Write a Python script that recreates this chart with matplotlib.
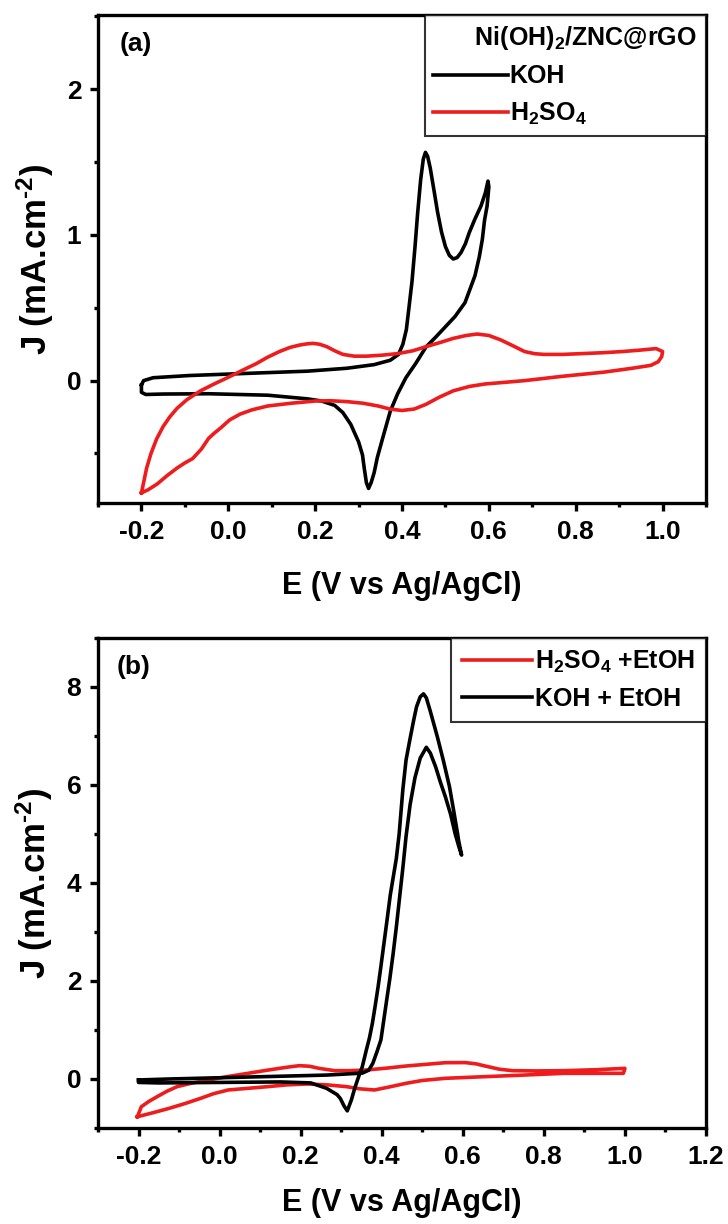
import matplotlib
matplotlib.use("Agg")
import matplotlib.pyplot as plt
from matplotlib.ticker import MultipleLocator, FormatStrFormatter

plt.rcParams['font.family'] = ['Liberation Sans', 'DejaVu Sans']
plt.rcParams['font.weight'] = 'bold'
plt.rcParams['axes.unicode_minus'] = False
plt.rcParams['mathtext.fontset'] = 'custom'
plt.rcParams['mathtext.rm'] = 'Liberation Sans:bold'
plt.rcParams['mathtext.bf'] = 'Liberation Sans:bold'
plt.rcParams['mathtext.it'] = 'Liberation Sans:bold'

# ---------------- data: panel (a) ----------------
koh_E = [-0.2, -0.195, -0.173, -0.09, 0.045, 0.182, 0.273, 0.336, 0.373, 0.392, 0.402, 0.41, 0.416,
         0.423, 0.43, 0.436, 0.443, 0.449, 0.454, 0.459, 0.465, 0.474, 0.482, 0.491, 0.5, 0.509,
         0.518, 0.527, 0.536, 0.546, 0.555, 0.568, 0.582, 0.592, 0.598,
         0.6, 0.596, 0.59, 0.585, 0.578, 0.568, 0.545, 0.522, 0.5, 0.478, 0.455, 0.432, 0.409,
         0.39, 0.373, 0.355, 0.343, 0.336, 0.329, 0.323, 0.318, 0.313, 0.309, 0.3, 0.282, 0.264,
         0.245, 0.215, 0.182, 0.091, -0.045, -0.15, -0.19, -0.2, -0.2]
koh_J = [-0.03, 0.0, 0.02, 0.035, 0.05, 0.065, 0.085, 0.11, 0.14, 0.18, 0.25, 0.35, 0.5,
         0.68, 0.92, 1.15, 1.38, 1.52, 1.567, 1.54, 1.46, 1.3, 1.155, 1.02, 0.92, 0.86,
         0.835, 0.845, 0.88, 0.94, 1.017, 1.11, 1.2, 1.29, 1.37,
         1.33, 1.2, 1.1, 0.97, 0.85, 0.72, 0.535, 0.44, 0.37, 0.3, 0.23, 0.12, 0.02,
         -0.09, -0.21, -0.4, -0.53, -0.63, -0.7, -0.74, -0.7, -0.6, -0.51, -0.42, -0.3, -0.22,
         -0.17, -0.14, -0.125, -0.1, -0.09, -0.092, -0.095, -0.08, -0.03]

h2so4_E = [-0.2, -0.195, -0.188, -0.178, -0.165, -0.15, -0.135, -0.118, -0.095, -0.064, -0.032,
           0.0, 0.032, 0.064, 0.09, 0.118, 0.142, 0.164, 0.18, 0.195, 0.21, 0.227, 0.245,
           0.264, 0.29, 0.318, 0.355, 0.391, 0.425, 0.455, 0.488, 0.518, 0.548, 0.573, 0.6,
           0.627, 0.655, 0.682, 0.705, 0.727, 0.77, 0.818, 0.865, 0.909, 0.95, 0.985,
           1.0, 0.998, 0.99, 0.973, 0.93, 0.864, 0.77, 0.682, 0.635, 0.591, 0.555, 0.518,
           0.485, 0.455, 0.428, 0.4, 0.372, 0.345, 0.31, 0.273, 0.235, 0.2, 0.145, 0.091,
           0.055, 0.027, 0.003, -0.018, -0.032, -0.045, -0.062, -0.082, -0.1, -0.118, -0.14,
           -0.164, -0.185, -0.2]
h2so4_J = [-0.77, -0.7, -0.6, -0.5, -0.4, -0.315, -0.25, -0.19, -0.13, -0.07, -0.022,
           0.023, 0.07, 0.116, 0.16, 0.2, 0.228, 0.244, 0.252, 0.256, 0.25, 0.233, 0.205,
           0.18, 0.168, 0.168, 0.175, 0.186, 0.205, 0.233, 0.262, 0.29, 0.31, 0.32, 0.31,
           0.28, 0.24, 0.2, 0.185, 0.18, 0.18, 0.186, 0.192, 0.2, 0.21, 0.22,
           0.2, 0.165, 0.13, 0.105, 0.085, 0.058, 0.03, 0.0, -0.012, -0.023, -0.04, -0.07,
           -0.115, -0.163, -0.195, -0.205, -0.195, -0.174, -0.155, -0.144, -0.138, -0.14, -0.155, -0.174,
           -0.2, -0.23, -0.27, -0.326, -0.36, -0.395, -0.47, -0.535, -0.565, -0.6, -0.65,
           -0.71, -0.75, -0.77]

# ---------------- data: panel (b) ----------------
koh_etoh_E = [-0.2, -0.125, 0.07, 0.264, 0.352, 0.368, 0.378, 0.388, 0.398, 0.405, 0.412, 0.42,
              0.428, 0.436, 0.444, 0.452, 0.46, 0.47, 0.482, 0.495, 0.51, 0.52, 0.533, 0.545,
              0.557, 0.57, 0.581, 0.59, 0.597,
              0.59, 0.587, 0.577, 0.567, 0.552, 0.537, 0.52, 0.51, 0.503, 0.495, 0.486, 0.479,
              0.47, 0.46, 0.452, 0.443, 0.436, 0.428, 0.421, 0.414, 0.406, 0.398, 0.391, 0.384,
              0.377, 0.37, 0.362, 0.352, 0.341, 0.333, 0.325, 0.315, 0.307, 0.298, 0.29, 0.264,
              0.225, 0.15, 0.0, -0.15, -0.2, -0.2]
koh_etoh_J = [-0.02, 0.0, 0.04, 0.08, 0.12, 0.18, 0.32, 0.55, 0.8, 1.2, 1.6, 2.05,
              2.55, 3.1, 3.7, 4.3, 4.95, 5.6, 6.15, 6.55, 6.77, 6.65, 6.37, 6.05,
              5.76, 5.4, 5.01, 4.75, 4.57,
              4.85, 5.01, 5.5, 5.97, 6.5, 6.99, 7.5, 7.78, 7.86, 7.8, 7.6, 7.33,
              6.95, 6.51, 5.9, 5.0, 4.5, 4.1, 3.75, 3.3, 2.8, 2.3, 1.88, 1.5,
              1.14, 0.85, 0.59, 0.25, -0.0, -0.2, -0.43, -0.65, -0.55, -0.4, -0.32, -0.19,
              -0.08, -0.06, -0.07, -0.08, -0.07, -0.02]

h2so4_etoh_E = [-0.203, -0.198, -0.193, -0.175, -0.154, -0.13, -0.105, -0.066, -0.027, 0.02, 0.07,
                0.11, 0.148, 0.175, 0.197, 0.222, 0.245, 0.284, 0.322, 0.362, 0.41,
                0.46, 0.51, 0.557, 0.606, 0.632, 0.655, 0.69, 0.723, 0.78, 0.85, 0.93, 1.0,
                0.998, 0.996, 0.93, 0.85, 0.75, 0.655, 0.557, 0.5, 0.46, 0.42,
                0.382, 0.345, 0.313, 0.265, 0.216, 0.165, 0.119, 0.07, 0.021, -0.015, -0.047,
                -0.085, -0.125, -0.165, -0.203]
h2so4_etoh_J = [-0.77, -0.67, -0.565, -0.46, -0.36, -0.25, -0.156, -0.08, -0.02, 0.05, 0.116,
                0.17, 0.218, 0.25, 0.272, 0.26, 0.218, 0.17, 0.17, 0.184, 0.22,
                0.265, 0.3, 0.333, 0.335, 0.31, 0.265, 0.2, 0.17, 0.165, 0.17, 0.19, 0.218,
                0.16, 0.116, 0.116, 0.116, 0.08, 0.048, 0.014, -0.03, -0.088, -0.16,
                -0.224, -0.2, -0.156, -0.12, -0.102, -0.12, -0.156, -0.19, -0.224, -0.3, -0.395,
                -0.5, -0.6, -0.69, -0.77]

top_xticks = [-0.2, 0.0, 0.2, 0.4, 0.6, 0.8, 1.0]
top_yticks = [0, 1, 2]
bot_xticks = [-0.2, 0.0, 0.2, 0.4, 0.6, 0.8, 1.0, 1.2]
bot_yticks = [0, 2, 4, 6, 8]

RED = '#ee1c1c'
LW = 2.6

fig = plt.figure(figsize=(7.28, 12.24), dpi=100)
ax1 = fig.add_axes([98/728, 1-503/1224, 608/728, 488/1224])
ax2 = fig.add_axes([98/728, 1-1128/1224, 608/728, 490/1224])


def style(ax, xticks, yticks, xlim, ylim, xminor, yminor, yfmt, xpad):
    ax.set_xlim(*xlim)
    ax.set_ylim(*ylim)
    ax.set_xticks(xticks)
    ax.set_yticks(yticks)
    ax.xaxis.set_minor_locator(MultipleLocator(xminor))
    ax.yaxis.set_minor_locator(MultipleLocator(yminor))
    ax.xaxis.set_major_formatter(FormatStrFormatter('%.1f'))
    ax.yaxis.set_major_formatter(FormatStrFormatter(yfmt))
    for s in ax.spines.values():
        s.set_linewidth(2.4)
    ax.tick_params(which='major', direction='out', length=6, width=2.4, labelsize=19, pad=6)
    ax.tick_params(which='minor', direction='out', length=3, width=2.4)
    for lab in ax.get_xticklabels() + ax.get_yticklabels():
        lab.set_fontweight('bold')
    ax.set_xlabel('E (V vs Ag/AgCl)', fontsize=22, fontweight='bold', labelpad=xpad)
    ax.set_ylabel('J (mA.cm$^{\u20102}$)', fontsize=25, fontweight='bold', labelpad=8)


# panel (a)
ax1.plot(koh_E, koh_J, color='black', lw=LW, solid_joinstyle='round', label='KOH')
ax1.plot(h2so4_E, h2so4_J, color=RED, lw=LW, solid_joinstyle='round', label=r'H$_2$SO$_4$')
style(ax1, top_xticks, top_yticks, (-0.3, 1.1), (-0.84, 2.51), 0.1, 0.5, '%d', 20)
ax1.text(0.035, 0.965, '(a)', transform=ax1.transAxes, fontsize=19, fontweight='bold',
         va='top', ha='left')
leg1 = ax1.legend(loc='upper right', title='      Ni(OH)$_2$/ZNC@rGO', fontsize=18,
                  title_fontsize=18, frameon=True, fancybox=False, edgecolor='black',
                  borderaxespad=0, handlelength=3.0, handletextpad=0.05, borderpad=0.35,
                  labelspacing=0.5, alignment='left')
leg1.get_frame().set_linewidth(1.5)
leg1.get_title().set_fontweight('bold')
for t in leg1.get_texts():
    t.set_fontweight('bold')

# panel (b)
ax2.plot(h2so4_etoh_E, h2so4_etoh_J, color=RED, lw=LW, solid_joinstyle='round',
         label=r'H$_2$SO$_4$ +EtOH')
ax2.plot(koh_etoh_E, koh_etoh_J, color='black', lw=LW, solid_joinstyle='round',
         label='KOH + EtOH')
style(ax2, bot_xticks, bot_yticks, (-0.3, 1.2), (-1.0, 9.0), 0.1, 1.0, '%d', 14)
ax2.text(0.03, 0.965, '(b)', transform=ax2.transAxes, fontsize=19, fontweight='bold',
         va='top', ha='left')
leg2 = ax2.legend(loc='upper right', fontsize=18, frameon=True, fancybox=False,
                  edgecolor='black', borderaxespad=0, handlelength=2.8, handletextpad=0.1,
                  borderpad=0.45, labelspacing=0.45)
leg2.get_frame().set_linewidth(1.5)
for t in leg2.get_texts():
    t.set_fontweight('bold')

fig.savefig('out.png', dpi=100)
